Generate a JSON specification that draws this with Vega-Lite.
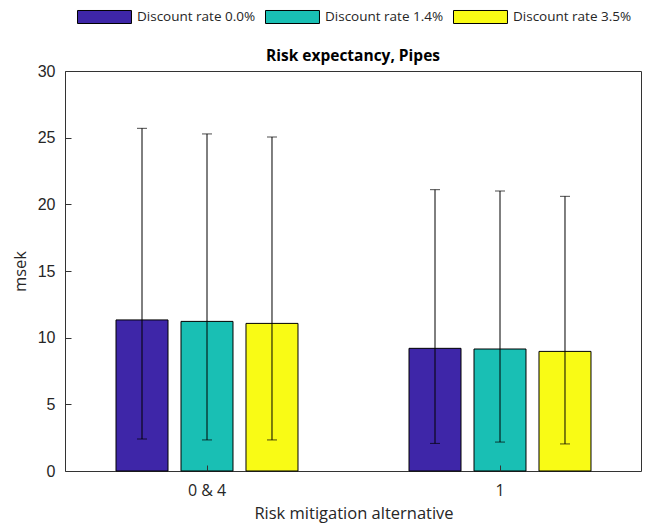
{
  "$schema": "https://vega.github.io/schema/vega-lite/v6.json",
  "width": 576,
  "height": 400,
  "autosize": {"type": "none"},
  "padding": {"left": 65, "top": 71, "right": 10, "bottom": 55},
  "background": "white",
  "config": {
    "view": {"stroke": "#333333", "strokeWidth": 1},
    "font": "Open Sans"
  },
  "title": {
    "text": "Risk expectancy, Pipes",
    "font": "Open Sans",
    "fontSize": 15.5,
    "fontWeight": "bold",
    "color": "#000000",
    "anchor": "middle",
    "baseline": "alphabetic",
    "offset": 0,
    "dy": 67
  },
  "data": {
    "values": [
      {"alt": "0 & 4", "rate": "Discount rate 0.0%", "value": 11.33, "lo": 2.4, "hi": 25.7},
      {"alt": "0 & 4", "rate": "Discount rate 1.4%", "value": 11.22, "lo": 2.33, "hi": 25.28},
      {"alt": "0 & 4", "rate": "Discount rate 3.5%", "value": 11.07, "lo": 2.33, "hi": 25.05},
      {"alt": "1", "rate": "Discount rate 0.0%", "value": 9.2, "lo": 2.07, "hi": 21.1},
      {"alt": "1", "rate": "Discount rate 1.4%", "value": 9.15, "lo": 2.17, "hi": 21.0},
      {"alt": "1", "rate": "Discount rate 3.5%", "value": 8.97, "lo": 2.03, "hi": 20.6}
    ]
  },
  "encoding": {
    "x": {
      "field": "alt",
      "type": "nominal",
      "sort": ["0 & 4", "1"],
      "scale": {"range": [-4.5, 581.5], "paddingInner": 0, "paddingOuter": 0},
      "axis": {
        "title": "Risk mitigation alternative",
        "titleFont": "Open Sans",
        "titleFontSize": 16.5,
        "titleFontWeight": "normal",
        "titleColor": "#262626",
        "titlePadding": 7,
        "labelFont": "Open Sans",
        "labelFontSize": 16,
        "labelColor": "#262626",
        "labelAngle": 0,
        "labelPadding": 17,
        "domain": false,
        "ticks": true,
        "tickSize": -6,
        "tickColor": "#333333",
        "zindex": 1
      }
    },
    "xOffset": {
      "field": "rate",
      "type": "nominal",
      "scale": {"paddingInner": 0.2, "paddingOuter": 0.854}
    }
  },
  "layer": [
    {
      "mark": {"type": "bar", "stroke": "#000000", "strokeWidth": 1, "opacity": 1},
      "encoding": {
        "y": {
          "field": "value",
          "type": "quantitative",
          "scale": {"domain": [0, 30], "nice": false, "zero": true},
          "axis": {
            "title": "msek",
            "titleFont": "Open Sans",
            "titleFontSize": 16.5,
            "titleFontWeight": "normal",
            "titleColor": "#262626",
            "titlePadding": 9,
            "values": [0, 5, 10, 15, 20, 25, 30],
            "labelFont": "Liberation Sans",
            "labelFontSize": 16,
            "labelColor": "#262626",
            "labelPadding": 16,
            "grid": false,
            "domain": false,
            "tickSize": -6,
            "tickColor": "#333333",
            "zindex": 1
          }
        },
        "fill": {
          "field": "rate",
          "type": "nominal",
          "scale": {
            "domain": ["Discount rate 0.0%", "Discount rate 1.4%", "Discount rate 3.5%"],
            "range": ["#3E26A8", "#19BFB4", "#F9FB15"]
          },
          "legend": {
            "title": null,
            "orient": "none",
            "direction": "horizontal",
            "legendX": 12,
            "legendY": -62,
            "symbolType": "M-1,-0.93L6.71,-0.93L6.71,0.93L-1,0.93Z",
            "symbolSize": 196,
            "symbolStrokeColor": "#000000",
            "symbolStrokeWidth": 1,
            "symbolOpacity": 1,
            "labelFont": "Open Sans",
            "labelFontSize": 13.5,
            "labelColor": "#262626",
            "labelOffset": 45,
            "columnPadding": 7,
            "labelLimit": 300
          }
        }
      }
    },
    {
      "mark": {"type": "rule", "color": "#000000", "strokeWidth": 1},
      "encoding": {
        "y": {"field": "lo", "type": "quantitative"},
        "y2": {"field": "hi"}
      }
    },
    {
      "mark": {"type": "tick", "color": "#000000", "thickness": 1, "size": 10, "orient": "horizontal"},
      "encoding": {
        "y": {"field": "lo", "type": "quantitative"}
      }
    },
    {
      "mark": {"type": "tick", "color": "#000000", "thickness": 1, "size": 10, "orient": "horizontal"},
      "encoding": {
        "y": {"field": "hi", "type": "quantitative"}
      }
    }
  ]
}
